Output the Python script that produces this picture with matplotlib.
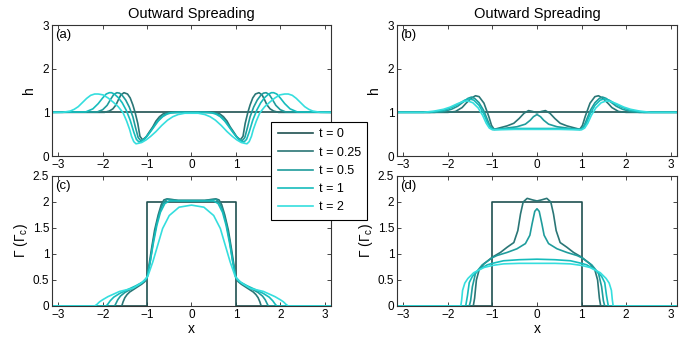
import numpy as np
import matplotlib
matplotlib.use('Agg')
import matplotlib.pyplot as plt

plt.rcParams['font.family'] = ['Liberation Sans', 'DejaVu Sans']

# times shown and their line colours
times = ['0', '0.25', '0.5', '1', '2']
cols = ['#1f5050', '#2a7676', '#1f9c9c', '#16bcbc', '#35dede']

# initial condition (t = 0)
h0_x = [-3.2, 3.2]
h0_y = [1.0, 1.0]
g0_x = [-3.2, -1, -1, 1, 1, 3.2]
g0_y = [0, 0, 2, 2, 0, 0]

# ---- panel (a): h, right half (x >= 0), curves are symmetric ----
a025_x = [0, 0.4, 0.55, 0.63, 0.72, 0.8, 0.87, 0.95, 1.02, 1.10, 1.16, 1.21, 1.27, 1.32, 1.38, 1.44, 1.52, 1.59, 1.65, 1.70, 1.77, 1.85, 1.96, 3.2]
a025_y = [1.0, 1.0, 1.0, 0.97, 0.9, 0.8, 0.67, 0.55, 0.44, 0.37, 0.45, 0.75, 1.0, 1.17, 1.33, 1.42, 1.45, 1.40, 1.28, 1.17, 1.08, 1.03, 1.0, 1.0]
a05_x = [0, 0.35, 0.5, 0.6, 0.7, 0.8, 0.9, 1.0, 1.07, 1.14, 1.2, 1.26, 1.32, 1.4, 1.48, 1.56, 1.62, 1.68, 1.75, 1.82, 1.9, 2.0, 2.12, 3.2]
a05_y = [1.0, 1.0, 0.99, 0.95, 0.87, 0.75, 0.6, 0.46, 0.38, 0.35, 0.42, 0.65, 0.9, 1.12, 1.28, 1.39, 1.44, 1.45, 1.41, 1.3, 1.16, 1.06, 1.01, 1.0]
a1_x = [0, 0.3, 0.45, 0.55, 0.65, 0.75, 0.85, 0.95, 1.05, 1.12, 1.18, 1.24, 1.3, 1.38, 1.47, 1.56, 1.65, 1.74, 1.8, 1.85, 1.92, 2.0, 2.1, 2.22, 2.38, 3.2]
a1_y = [1.0, 1.0, 0.99, 0.96, 0.9, 0.8, 0.66, 0.52, 0.4, 0.34, 0.32, 0.38, 0.55, 0.82, 1.05, 1.22, 1.34, 1.42, 1.45, 1.45, 1.42, 1.33, 1.2, 1.08, 1.01, 1.0]
a2_x = [0, 0.15, 0.3, 0.42, 0.54, 0.67, 0.8, 0.92, 1.02, 1.12, 1.2, 1.25, 1.3, 1.35, 1.39, 1.46, 1.54, 1.65, 1.77, 1.88, 1.99, 2.1, 2.18, 2.27, 2.36, 2.45, 2.55, 2.64, 2.73, 2.9, 3.2]
a2_y = [0.98, 0.98, 0.95, 0.9, 0.82, 0.7, 0.56, 0.45, 0.37, 0.31, 0.29, 0.28, 0.33, 0.45, 0.6, 0.8, 0.99, 1.13, 1.24, 1.33, 1.40, 1.42, 1.42, 1.39, 1.32, 1.23, 1.13, 1.07, 1.03, 1.0, 1.0]

# ---- panel (b): h ----
b025_x = [0, 0.1, 0.19, 0.29, 0.40, 0.52, 0.67, 0.89, 0.96, 1.02, 1.08, 1.14, 1.19, 1.3, 1.38, 1.45, 1.52, 1.6, 1.68, 1.83, 2.0, 3.2]
b025_y = [0.99, 1.02, 1.04, 0.98, 0.86, 0.75, 0.69, 0.63, 0.61, 0.7, 0.9, 1.07, 1.21, 1.36, 1.38, 1.34, 1.28, 1.2, 1.11, 1.02, 1.0, 1.0]
b05_x = [0, 0.08, 0.15, 0.26, 0.45, 0.75, 0.95, 1.0, 1.06, 1.12, 1.2, 1.3, 1.4, 1.47, 1.55, 1.65, 1.78, 1.92, 2.1, 2.3, 3.2]
b05_y = [0.95, 0.9, 0.82, 0.73, 0.67, 0.63, 0.61, 0.62, 0.7, 0.85, 1.05, 1.22, 1.32, 1.35, 1.32, 1.24, 1.14, 1.07, 1.02, 1.0, 1.0]
b1_x = [0, 0.5, 0.9, 0.98, 1.05, 1.12, 1.2, 1.3, 1.42, 1.52, 1.62, 1.75, 1.9, 2.05, 2.2, 2.4, 3.2]
b1_y = [0.63, 0.63, 0.61, 0.61, 0.66, 0.78, 0.98, 1.16, 1.28, 1.31, 1.28, 1.2, 1.12, 1.06, 1.03, 1.0, 1.0]
b2_x = [0, 0.5, 0.9, 1.0, 1.07, 1.14, 1.22, 1.32, 1.44, 1.55, 1.65, 1.78, 1.95, 2.1, 2.3, 2.55, 3.2]
b2_y = [0.61, 0.61, 0.6, 0.6, 0.64, 0.75, 0.93, 1.1, 1.22, 1.26, 1.25, 1.2, 1.12, 1.07, 1.03, 1.0, 1.0]

# ---- panel (c): Gamma ----
c025_x = [0, 0.3, 0.45, 0.55, 0.62, 0.68, 0.75, 0.83, 0.9, 0.95, 1.0, 1.05, 1.12, 1.21, 1.3, 1.39, 1.45, 1.5, 1.54, 1.57, 3.2]
c025_y = [2.03, 2.03, 2.05, 2.06, 2.04, 1.95, 1.75, 1.46, 1.1, 0.82, 0.55, 0.47, 0.42, 0.37, 0.32, 0.27, 0.22, 0.16, 0.08, 0.0, 0.0]
c05_x = [0, 0.3, 0.45, 0.55, 0.62, 0.7, 0.78, 0.86, 0.93, 1.0, 1.08, 1.2, 1.35, 1.5, 1.6, 1.66, 1.7, 1.73, 3.2]
c05_y = [2.03, 2.03, 2.04, 2.05, 2.0, 1.85, 1.6, 1.25, 0.85, 0.53, 0.46, 0.4, 0.33, 0.26, 0.19, 0.12, 0.05, 0.0, 0.0]
c1_x = [0, 0.3, 0.5, 0.6, 0.7, 0.78, 0.86, 0.93, 1.0, 1.1, 1.25, 1.45, 1.62, 1.75, 1.83, 1.88, 1.92, 3.2]
c1_y = [2.02, 2.02, 2.02, 1.97, 1.8, 1.55, 1.2, 0.85, 0.55, 0.46, 0.39, 0.31, 0.24, 0.17, 0.1, 0.04, 0.0, 0.0]
c2_x = [0, 0.28, 0.5, 0.65, 0.76, 0.87, 0.98, 1.05, 1.15, 1.32, 1.62, 1.88, 2.0, 2.07, 2.13, 2.18, 3.2]
c2_y = [1.94, 1.9, 1.74, 1.49, 1.17, 0.85, 0.58, 0.5, 0.43, 0.34, 0.28, 0.18, 0.12, 0.08, 0.03, 0.0, 0.0]

# ---- panel (d): Gamma ----
d025_x = [0, 0.1, 0.22, 0.31, 0.37, 0.43, 0.52, 0.67, 0.82, 1.0, 1.19, 1.3, 1.36, 1.4, 1.43, 3.2]
d025_y = [2.02, 2.04, 2.07, 2.0, 1.77, 1.45, 1.22, 1.13, 1.03, 0.94, 0.81, 0.69, 0.5, 0.15, 0.0, 0.0]
d05_x = [0, 0.05, 0.11, 0.16, 0.26, 0.45, 0.67, 0.9, 1.0, 1.23, 1.38, 1.45, 1.49, 1.52, 3.2]
d05_y = [1.87, 1.82, 1.58, 1.36, 1.2, 1.1, 1.03, 0.97, 0.93, 0.79, 0.63, 0.37, 0.1, 0.0, 0.0]
d1_x = [0, 0.4, 0.75, 1.0, 1.12, 1.3, 1.45, 1.52, 1.56, 1.6, 3.2]
d1_y = [0.9, 0.89, 0.87, 0.82, 0.79, 0.7, 0.57, 0.45, 0.2, 0.0, 0.0]
d2_x = [0, 0.4, 0.75, 1.0, 1.19, 1.42, 1.55, 1.62, 1.67, 1.69, 1.71, 3.2]
d2_y = [0.82, 0.82, 0.81, 0.78, 0.74, 0.64, 0.53, 0.44, 0.3, 0.12, 0.0, 0.0]


def mirror(x, y):
    x = np.array(x)
    y = np.array(y)
    return np.concatenate([-x[::-1], x[1:]]), np.concatenate([y[::-1], y[1:]])


glab = 'Γ (Γ$_\\mathregular{c}$)'
panels = [
    ('(a)', 'h', (h0_x, h0_y), [(a025_x, a025_y), (a05_x, a05_y), (a1_x, a1_y), (a2_x, a2_y)]),
    ('(b)', 'h', (h0_x, h0_y), [(b025_x, b025_y), (b05_x, b05_y), (b1_x, b1_y), (b2_x, b2_y)]),
    ('(c)', glab, (g0_x, g0_y), [(c025_x, c025_y), (c05_x, c05_y), (c1_x, c1_y), (c2_x, c2_y)]),
    ('(d)', glab, (g0_x, g0_y), [(d025_x, d025_y), (d05_x, d05_y), (d1_x, d1_y), (d2_x, d2_y)]),
]

fig = plt.figure(figsize=(6.92, 3.47), dpi=100)
rects = [[0.0751, 0.5504, 0.4032, 0.3775],
         [0.5737, 0.5504, 0.4046, 0.3775],
         [0.0751, 0.1182, 0.4032, 0.3746],
         [0.5737, 0.1182, 0.4046, 0.3746]]

lines = []
for k, (tag, ylab, first, rest) in enumerate(panels):
    ax = fig.add_axes(rects[k])
    ln, = ax.plot(first[0], first[1], color=cols[0], lw=1.2)
    if k == 0:
        lines.append(ln)
    for j, (xs, ys) in enumerate(rest):
        fx, fy = mirror(xs, ys)
        ln, = ax.plot(fx, fy, color=cols[j + 1], lw=1.2)
        if k == 0:
            lines.append(ln)
    ax.set_xlim(-np.pi, np.pi)
    ax.set_xticks([-3, -2, -1, 0, 1, 2, 3])
    if k < 2:
        ax.set_ylim(0, 3)
        ax.set_yticks([0, 1, 2, 3])
        ax.set_title('Outward Spreading', fontsize=10.5, pad=5)
        ax.set_ylabel(ylab, fontsize=10, labelpad=5)
    else:
        ax.set_ylim(0, 2.5)
        ax.set_yticks([0, 0.5, 1, 1.5, 2, 2.5])
        ax.set_yticklabels(['0', '0.5', '1', '1.5', '2', '2.5'])
        ax.set_xlabel('x', fontsize=10, labelpad=1)
        ax.set_ylabel(ylab, fontsize=10, labelpad=2)
    ax.text(0.012, 0.97, tag, transform=ax.transAxes, fontsize=9.5, va='top', ha='left')
    ax.tick_params(direction='in', top=True, right=True, length=3, width=0.7,
                   labelsize=8.5, pad=2, color='#444444')
    for s in ax.spines.values():
        s.set_linewidth(0.8)
        s.set_color('#333333')

leg = fig.legend(lines, ['t = ' + t for t in times], loc='upper left',
                 bbox_to_anchor=(0.392, 0.648), fontsize=9, frameon=True,
                 fancybox=False, edgecolor='black', framealpha=1,
                 handlelength=2.8, handletextpad=0.5, borderpad=0.5,
                 labelspacing=0.5, borderaxespad=0)
leg.get_frame().set_linewidth(0.8)

fig.savefig('out.png', dpi=100)
